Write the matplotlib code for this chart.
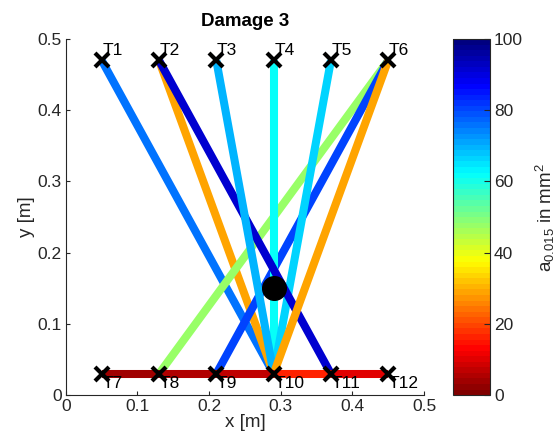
import numpy as np
import matplotlib
matplotlib.use('Agg')
import matplotlib.pyplot as plt
from matplotlib import cm, colors

plt.rcParams['font.family'] = ['Liberation Sans', 'DejaVu Sans']

# sensor layout
sensor_names = ['T1', 'T2', 'T3', 'T4', 'T5', 'T6',
                'T7', 'T8', 'T9', 'T10', 'T11', 'T12']
sensor_x = [0.05, 0.13, 0.21, 0.29, 0.37, 0.45,
            0.05, 0.13, 0.21, 0.29, 0.37, 0.45]
sensor_y = [0.47] * 6 + [0.03] * 6

# paths (sender index, receiver index, value in mm^2), drawn in this order
path_from = [1, 2, 6, 6, 4, 5, 2, 3, 6, 7, 8, 9, 10, 11]
path_to = [10, 10, 8, 9, 10, 10, 11, 10, 10, 8, 9, 10, 11, 12]
path_val = [75, 29, 47, 80, 61, 66, 92, 70, 29, 4, 6, 7, 17, 10]

damage_x = 0.29
damage_y = 0.15

# MATLAB-style jet with 64 levels, reversed (0 = dark red, 100 = dark blue)
t = np.linspace(0, 1, 64)
jet64 = np.stack([np.clip(1.5 - np.abs(4 * t - 3), 0, 1),
                  np.clip(1.5 - np.abs(4 * t - 2), 0, 1),
                  np.clip(1.5 - np.abs(4 * t - 1), 0, 1)], axis=1)
cmap = colors.ListedColormap(jet64[::-1])
norm = colors.Normalize(vmin=0, vmax=100)

fig = plt.figure(figsize=(5.58, 4.43), dpi=100)
ax = fig.add_axes([0.118, 0.108, 0.642, 0.804])
cax = fig.add_axes([0.812, 0.108, 0.066, 0.804])

for s, r, v in zip(path_from, path_to, path_val):
    ax.plot([sensor_x[s - 1], sensor_x[r - 1]], [sensor_y[s - 1], sensor_y[r - 1]],
            color=cmap(norm(v)), lw=5.8, solid_capstyle='butt', zorder=2)

ax.plot(sensor_x, sensor_y, 'kx', ms=10, mew=3, zorder=4)
for name, x, y in zip(sensor_names, sensor_x, sensor_y):
    if y > 0.25:
        ax.text(x + 0.001, y + 0.004, name, fontsize=12.5, ha='left', va='bottom')
    else:
        ax.text(x + 0.001, y - 0.003, name, fontsize=12.5, ha='left', va='top')

ax.plot(damage_x, damage_y, 'o', color='k', ms=17, zorder=5)

ax.set_xlim(0, 0.5)
ax.set_ylim(0, 0.5)
ax.set_xticks(np.arange(0, 0.51, 0.1))
ax.set_yticks(np.arange(0, 0.51, 0.1))
ax.set_xticklabels(['0', '0.1', '0.2', '0.3', '0.4', '0.5'])
ax.set_yticklabels(['0', '0.1', '0.2', '0.3', '0.4', '0.5'])
ax.tick_params(labelsize=12.5, direction='in', length=3, color='#262626',
               labelcolor='#262626', pad=3)
ax.spines['top'].set_visible(False)
ax.spines['right'].set_visible(False)
for sp in ['left', 'bottom']:
    ax.spines[sp].set_color('#262626')
ax.set_xlabel('x [m]', fontsize=13.5, color='#262626', labelpad=0)
ax.set_ylabel('y [m]', fontsize=13.5, color='#262626', labelpad=2)
ax.set_title('Damage 3', fontsize=13.5, fontweight='bold', pad=9)

cb = fig.colorbar(cm.ScalarMappable(norm=norm, cmap=cmap), cax=cax)
cb.set_ticks([0, 20, 40, 60, 80, 100])
cb.ax.tick_params(labelsize=12.5, direction='in', length=4, color='#262626',
                  labelcolor='#262626', pad=3)
cb.outline.set_edgecolor('#262626')
cb.set_label(r'$\mathregular{a_{0.015}}$ in mm$^\mathregular{2}$', fontsize=13.5,
             color='#262626', labelpad=7)

fig.savefig('out.png', dpi=100)
